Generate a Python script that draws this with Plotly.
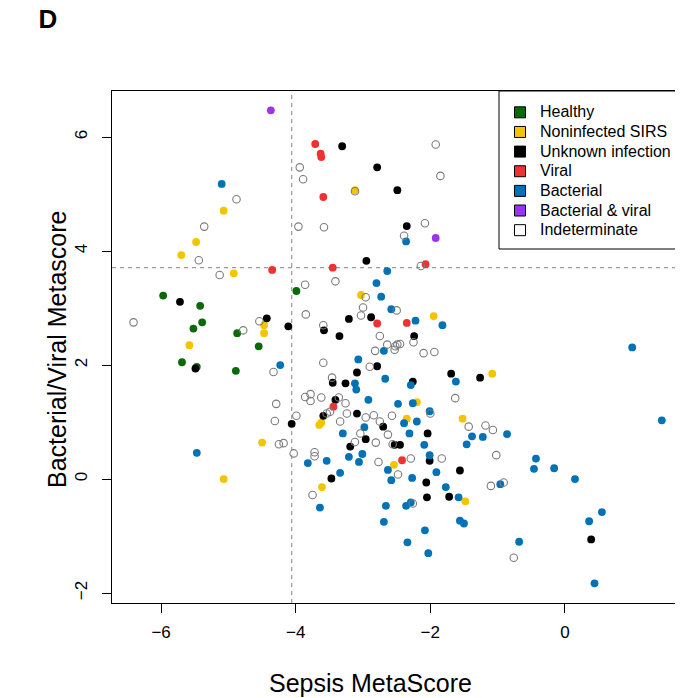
import plotly.graph_objects as go

# ---------------- data ----------------
healthy_x = [-3.99, -5.97, -5.42, -5.39, -5.52, -4.87, -4.55, -5.69, -5.47, -4.89]
healthy_y = [3.30, 3.22, 3.04, 2.75, 2.64, 2.56, 2.33, 2.05, 1.97, 1.90]

sirs_x = [-5.07, -5.48, -5.70, -4.92, -3.12, -4.47, -4.47, -5.58, -4.50, -5.07, -3.03,
          -1.95, -1.08, -2.20, -1.52, -3.65, -3.62, -2.35, -3.61, -2.54, -1.48]
sirs_y = [4.71, 4.16, 3.93, 3.61, 5.07, 2.70, 2.56, 2.35, 0.64, 0.00, 3.23,
          2.86, 1.85, 1.35, 1.06, 0.95, 0.99, 1.06, -0.14, 0.25, -0.39]

unknown_x = [-3.31, -2.79, -2.49, -2.35, -2.95, -5.72, -4.43, -4.11, -5.49, -4.06, -3.21,
             -2.88, -3.58, -3.35, -2.24, -2.79, -3.09, -3.45, -3.26, -2.26, -1.69, -1.26,
             -3.41, -3.59, -3.09, -2.70, -2.04, -2.96, -3.19, -2.53, -2.45, -3.47, -2.01,
             -2.06, -1.56, -2.05, -1.72, 0.39]
unknown_y = [5.84, 5.47, 5.07, 4.44, 3.83, 3.11, 2.82, 2.68, 1.94, 0.97, 2.81,
             2.84, 2.61, 2.51, 2.51, 1.98, 1.87, 1.69, 1.68, 1.71, 1.85, 1.78,
             1.39, 1.11, 1.15, 0.92, 0.80, 0.70, 0.57, 0.60, 0.60, 0.01, 0.32,
             -0.06, 0.15, -0.32, -0.31, -1.06]

viral_x = [-3.71, -3.63, -3.62, -3.59, -4.35, -3.45, -2.07, -2.79, -2.35, -3.44, -2.42]
viral_y = [5.88, 5.71, 5.65, 4.95, 3.67, 3.71, 3.77, 2.73, 2.74, 1.27, 0.33]

bact_x = [-5.10, -2.36, -2.64, -4.23, -5.47, -3.82, -2.80, -2.73, -2.58, -2.22, -1.82,
          -2.69, -3.07, -3.12, -3.10, -2.67, -2.29, -1.62, -2.92, -2.48, -2.26, -2.01,
          -1.38, -1.22, -2.98, -3.30, -2.39, -2.20, -2.31, -3.01, -3.21, -3.06, -2.09,
          -1.46, -3.54, -3.34, -3.64, -2.63, -2.58, -2.27, -2.01, -1.91, -1.77, -1.58,
          -0.96, -2.66, -2.36, -2.29, -2.69, -1.56, -1.50, -2.08, -2.34, -2.03, -0.86,
          -0.43, -0.46, -0.16, 0.15, 0.55, 0.36, -0.68, 0.44, 1.00, 1.44]
bact_y = [5.18, 4.17, 3.65, 2.00, 0.46, 0.28, 3.44, 3.20, 2.98, 2.78, 2.70,
          2.25, 2.10, 1.68, 1.57, 1.76, 1.65, 1.71, 1.39, 1.32, 1.33, 1.19,
          0.75, 0.74, 0.91, 0.80, 0.98, 1.01, 0.80, 0.44, 0.39, 0.30, 0.60,
          0.61, 0.32, 0.11, -0.50, 0.16, -0.02, 0.02, 0.42, 0.12, -0.14, -0.32,
          -0.09, -0.47, -0.47, -0.41, -0.75, -0.73, -0.78, -0.90, -1.11, -1.30, 0.79,
          0.36, 0.18, 0.19, 0.00, -0.58, -0.74, -1.10, -1.83, 2.31, 1.03]

bv_x = [-4.37, -1.92]
bv_y = [6.47, 4.23]

indet_x = [-3.94, -3.89, -4.88, -5.36, -3.96, -5.44, -1.92, -1.85, -3.12, -3.58, -2.08,
           -2.39, -2.14, -5.13, -3.86, -6.41, -4.54, -4.78, -3.85, -4.33, -3.86, -3.78,
           -3.78, -4.29, -3.99, -4.31, -4.25, -4.18, -4.03, -3.72, -3.72, -3.75, -3.41,
           -2.96, -3.00, -2.50, -3.03, -3.59, -2.75, -2.25, -2.64, -2.52, -2.49, -2.45,
           -2.82, -2.53, -2.10, -1.94, -3.59, -2.90, -3.46, -3.62, -3.36, -3.26, -2.00,
           -1.63, -1.43, -1.18, -1.07, -3.54, -3.49, -3.34, -3.24, -2.96, -2.84, -2.75,
           -2.57, -3.04, -2.63, -3.12, -2.81, -2.56, -1.02, -2.77, -2.29, -2.48, -1.83,
           -1.10, -0.91, -2.26, -0.76]
indet_y = [5.47, 5.26, 4.91, 4.43, 4.43, 3.84, 5.87, 5.32, 5.05, 4.42, 4.49,
           4.27, 3.74, 3.58, 3.41, 2.75, 2.77, 2.61, 2.89, 1.88, 1.44, 1.49,
           1.37, 1.32, 1.11, 1.02, 0.61, 0.63, 0.45, 0.47, 0.40, -0.28, 3.47,
           3.19, 3.01, 2.96, 2.87, 2.70, 2.51, 2.40, 2.36, 2.33, 2.36, 2.37,
           2.25, 2.27, 2.21, 2.23, 2.04, 1.97, 1.78, 1.43, 1.43, 1.33, 1.15,
           1.42, 0.92, 0.94, 0.86, 1.15, 1.18, 1.01, 1.15, 1.08, 1.12, 1.01,
           1.11, 0.80, 0.78, 0.65, 0.64, 0.61, 0.42, 0.30, 0.36, 0.08, 0.36,
           -0.12, -0.06, -0.43, -1.38]

sepsis_cut = -4.06
bv_cut = 3.71

groups = ["Healthy", "Noninfected SIRS", "Unknown infection", "Viral",
          "Bacterial", "Bacterial & viral", "Indeterminate"]
colors = ["#0a6a0a", "#f2c500", "#000000", "#ee3131", "#0072b5", "#9a34f2", "#ffffff"]
xs = [healthy_x, sirs_x, unknown_x, viral_x, bact_x, bv_x, indet_x]
ys = [healthy_y, sirs_y, unknown_y, viral_y, bact_y, bv_y, indet_y]

FONT = "Liberation Sans, Arial, Helvetica, sans-serif"

# page has an 8px body margin: the figure is sized so it fits the 683x698 window
W, H = 675, 690
ML, MT, MR, MB = 104, 83, 1, 95
PW = W - ML - MR   # 570
PH = H - MT - MB   # 512

fig = go.Figure()

# data points
for name, col, x, y in zip(groups, colors, xs, ys):
    if name == "Indeterminate":
        marker = dict(symbol="circle-open", size=7.5, color="#7a7a7a",
                      line=dict(color="#7a7a7a", width=1.1))
    else:
        marker = dict(symbol="circle", size=7.8, color=col, line=dict(width=0))
    fig.add_trace(go.Scatter(x=x, y=y, mode="markers", marker=marker,
                             name=name, showlegend=False, hoverinfo="x+y+name"))

# legend entries (square keys)
for name, col in zip(groups, colors):
    fig.add_trace(go.Scatter(
        x=[None], y=[None], mode="markers",
        name='<span style="font-size:16px">%s</span>' % name,
        marker=dict(symbol="square", size=11, color=col, line=dict(color="black", width=1)),
        showlegend=True))

# threshold lines
fig.add_shape(type="line", xref="x", yref="paper", x0=sepsis_cut, x1=sepsis_cut, y0=0, y1=1,
              line=dict(color="#9a9a9a", width=1.2, dash="4px,4px"), layer="below")
fig.add_shape(type="line", xref="paper", yref="y", x0=0, x1=1, y0=bv_cut, y1=bv_cut,
              line=dict(color="#9a9a9a", width=1.2, dash="4px,4px"), layer="below")

# legend frame
LEG_L, LEG_T, LEG_B = 499 - 112, 0, 249 - 91   # pixels relative to plot area
fig.add_shape(type="rect", xref="paper", yref="paper",
              x0=LEG_L / PW, x1=1, y0=1 - LEG_B / PH, y1=1,
              line=dict(color="black", width=1), fillcolor="white", layer="above")

axis_common = dict(showgrid=False, zeroline=False, showline=True, linecolor="black",
                   linewidth=1, mirror=True, ticks="outside", ticklen=9, tickcolor="black",
                   tickwidth=1, tickfont=dict(family=FONT, size=17, color="black"))

fig.update_layout(
    width=W, height=H,
    margin=dict(l=ML, r=MR, t=MT, b=MB),
    paper_bgcolor="white", plot_bgcolor="white",
    font=dict(family=FONT, color="black"),
    title=dict(text="<b>D</b>", x=40 / W, xanchor="center", xref="container",
               y=1 - 11 / H, yanchor="middle", yref="container",
               font=dict(family=FONT, size=26, color="black")),
    xaxis=dict(range=[-6.73, 1.74], tickvals=[-6, -4, -2, 0], ticklabelstandoff=5,
               **axis_common),
    yaxis=dict(range=[-2.175, 6.81], tickvals=[-2, 0, 2, 4, 6], tickangle=-90,
               ticklabelstandoff=8, **axis_common),
    legend=dict(x=(LEG_L + 1) / PW, xanchor="left", y=1 - 6.5 / PH, yanchor="top",
                bgcolor="rgba(0,0,0,0)", borderwidth=0,
                font=dict(family=FONT, size=12.8, color="black"),
                itemclick=False, itemdoubleclick=False),
    annotations=[
        dict(text="Sepsis MetaScore", xref="paper", yref="paper",
             x=(370 - 112) / PW, y=-(683 - 603) / PH, xanchor="center", yanchor="middle",
             showarrow=False, font=dict(family=FONT, size=25, color="black")),
        dict(text="Bacterial/Viral Metascore", xref="paper", yref="paper",
             x=-(112 - 57) / PW, y=0.5 - (350 - 347) / PH, xanchor="center", yanchor="middle",
             textangle=-90, showarrow=False, font=dict(family=FONT, size=25, color="black")),
    ],
)

fig.write_html("out.html")
